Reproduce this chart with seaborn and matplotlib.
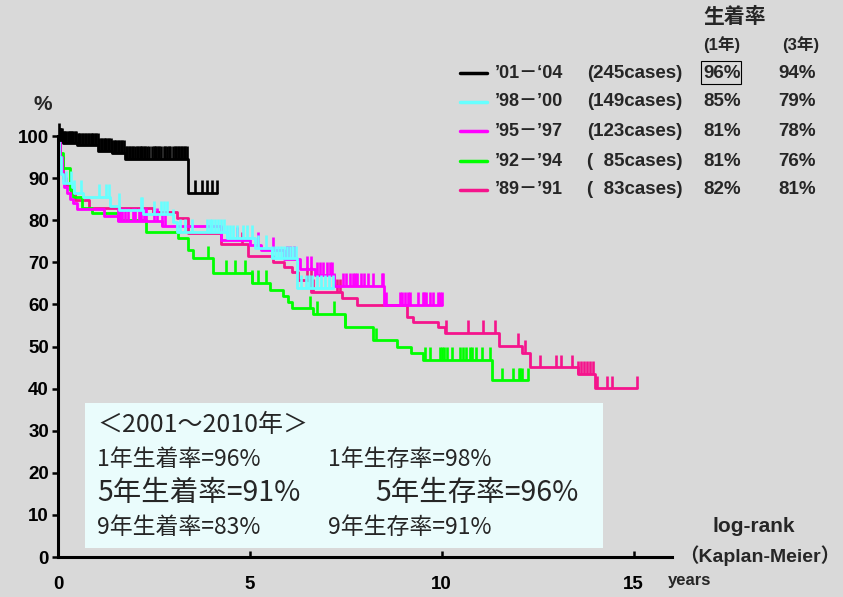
import numpy as np
import matplotlib
matplotlib.use('Agg')
import matplotlib.pyplot as plt
from matplotlib.patches import Rectangle
from matplotlib.lines import Line2D
import seaborn as sns

# legend rows (newest first)
periods = ['’01－‘04', '’98－’00', '’95－’97', '’92－’94', '’89－’91']
cases = ['(245cases)', '(149cases)', '(123cases)', '(  85cases)', '(  83cases)']
rate_1y = ['96%', '85%', '81%', '81%', '82%']
rate_3y = ['94%', '79%', '78%', '76%', '81%']
colors = ['black', '#66ffff', '#ff00ff', '#00ff00', '#f5148c']

# Kaplan-Meier steps: event times, survival after each, follow-up end, censor times
t01 = [0, 0.03, 0.12, 0.5, 1.05, 1.4, 1.74, 3.39]
s01 = [100, 99, 98.3, 97.8, 96.5, 96, 94.6, 86.5]
end01 = 4.14
c01 = [0.02, 0.04, 0.06, 0.08, 0.1, 0.13, 0.16, 0.19, 0.22, 0.25, 0.28, 0.31, 0.34, 0.37,
       0.4, 0.44, 0.47, 0.51, 0.55, 0.58, 0.62, 0.66, 0.7, 0.74, 0.78, 0.81, 0.85, 0.88,
       0.92, 0.96, 1.0, 1.04, 1.08, 1.11, 1.15, 1.19, 1.22, 1.26, 1.3, 1.33, 1.37, 1.41,
       1.45, 1.49, 1.52, 1.56, 1.6, 1.64, 1.68, 1.72, 1.76, 1.8, 1.84, 1.88, 1.92, 1.96,
       2.0, 2.05, 2.09, 2.13, 2.17, 2.2, 2.24, 2.28, 2.32, 2.36, 2.45, 2.49, 2.52, 2.56,
       2.6, 2.64, 2.68, 2.76, 2.8, 2.85, 2.89, 2.93, 3.0, 3.04, 3.08, 3.12, 3.16, 3.2,
       3.24, 3.28, 3.32, 3.36, 3.57, 3.75, 3.88, 4.01, 4.14]

t98 = [0, 0.03, 0.08, 0.13, 0.36, 0.42, 0.65, 1.35, 1.6, 2.22, 3.0, 3.1, 4.4, 5.13, 5.57, 6.22]
s98 = [100, 95, 91, 88.8, 88, 86.5, 85.5, 83.5, 82.5, 81.5, 79.6, 77.2, 75.8, 73.4, 71, 63.9]
end98 = 7.17
c98 = [0.2, 0.34, 0.42, 0.6, 1.07, 1.25, 1.33, 1.59, 2.16, 2.2, 2.5, 2.68, 2.76, 2.85, 3.0,
       3.18, 3.3, 3.49, 3.88, 3.95, 4.02, 4.1, 4.17, 4.25, 4.32, 4.4, 4.48, 4.56, 4.66,
       4.82, 4.92, 5.05, 5.22, 5.43, 5.57, 5.65, 5.72, 5.8, 5.88, 5.96, 6.05, 6.13, 6.2,
       6.32, 6.45, 6.55, 6.62, 6.75, 6.85, 6.95, 7.05, 7.17]

t95 = [0, 0.05, 0.1, 0.15, 0.23, 0.3, 0.4, 0.5, 1.2, 1.56, 2.7, 4.25, 5.0, 5.3, 5.9, 6.3, 6.7, 7.2, 8.5]
s95 = [100, 95, 91, 88, 86.5, 85, 84, 82.6, 81, 79.8, 78.6, 75.3, 74.1, 73, 70.8, 68.5, 67, 64.4, 59.9]
end95 = 10.0
c95 = [1.56, 1.62, 1.68, 1.75, 1.82, 1.95, 2.0, 2.1, 2.17, 2.23, 2.3, 2.5, 2.58, 2.7, 2.8,
       4.66, 5.2, 5.6, 5.96, 6.05, 6.15, 6.5, 6.6, 6.75, 6.82, 6.9, 7.0, 7.08, 7.14, 7.2,
       7.42, 7.5, 7.6, 7.68, 7.74, 7.8, 7.9, 7.98, 8.07, 8.2, 8.44, 8.46, 8.56, 8.9, 8.97,
       9.03, 9.11, 9.17, 9.38, 9.5, 9.55, 9.6, 9.69, 9.77, 9.9, 9.95, 10.0]

t92 = [0, 0.05, 0.13, 0.31, 0.4, 0.62, 0.88, 1.56, 2.3, 3.13, 3.39, 3.52, 4.04, 5.05, 5.52,
       5.86, 6.0, 6.1, 6.64, 7.47, 8.2, 8.83, 9.2, 9.5, 11.3]
s92 = [100, 96, 92.4, 87.2, 85.5, 83, 81.7, 80, 77.2, 75.8, 73, 71, 67.5, 65.1, 63.4,
       62, 60.6, 59.1, 57.8, 54.6, 51.5, 49.9, 48.5, 46.8, 42]
end92 = 12.25
c92 = [3.9, 4.39, 4.6, 4.87, 5.05, 5.22, 5.43, 6.56, 6.74, 7.2, 7.47, 8.28, 9.56, 9.69,
       9.95, 10.0, 10.05, 10.13, 10.26, 10.47, 10.55, 10.62, 10.73, 10.8, 10.9, 11.04,
       11.25, 11.56, 11.85, 12.0, 12.05, 12.1, 12.24]

t89 = [0, 0.05, 0.12, 0.2, 0.35, 0.45, 0.8, 2.47, 3.1, 3.4, 4.25, 4.95, 5.6, 5.9, 6.1, 6.25,
       6.6, 7.4, 7.8, 9.1, 9.25, 9.9, 10.08, 11.5, 12.1, 12.3, 13.55, 14.0]
s89 = [100, 95, 90, 88.4, 86.5, 84.8, 82.9, 82, 80.5, 77, 74.3, 71.5, 70, 69, 67.7, 65.8,
       63, 61.5, 59.9, 57, 55.8, 54.6, 53.2, 50.1, 48.5, 45.1, 43.5, 40.1]
end89 = 15.1
c89 = [4.8, 6.5, 6.58, 6.64, 7.27, 7.35, 10.1, 10.68, 11.07, 11.38, 11.98, 12.16, 12.55,
       12.99, 13.12, 13.4, 13.55, 13.62, 13.7, 13.78, 13.86, 13.94, 14.04, 14.3, 14.43, 15.08]

groups = [(t01, s01, end01, c01), (t98, s98, end98, c98), (t95, s95, end95, c95),
          (t92, s92, end92, c92), (t89, s89, end89, c89)]

# box text
box_title = '＜2001～2010年＞'
box_rows = [('1年生着率=96%', '1年生存率=98%'),
            ('5年生着率=91%', '5年生存率=96%'),
            ('9年生着率=83%', '9年生存率=91%')]

sns.set_theme(style='ticks')
plt.rcParams['font.family'] = ['Liberation Sans', 'Noto Sans CJK JP']
bg = '#d9d9d9'

W, H = 843, 597
fig = plt.figure(figsize=(W / 100, H / 100), dpi=100, facecolor=bg)
fx = lambda px: px / W
fy = lambda py: 1 - py / H

ax = fig.add_axes([fx(58), fy(557), fx(672) - fx(58), fy(94) - fy(557)])
ax.set_facecolor(bg)
ax.set_xlim(0, 16)
ax.set_ylim(0, 110)

# draw oldest first so the recent cohorts sit on top
for i in reversed(range(len(groups))):
    t, s, end, cens = groups[i]
    xs = np.array(t + [end])
    ys = np.array(s + [s[-1]])
    sns.lineplot(x=xs, y=ys, color=colors[i], drawstyle='steps-post', lw=2.0,
                 estimator=None, sort=False, ax=ax)
    cy = np.array(s)[np.searchsorted(t, cens, side='right') - 1]
    ax.vlines(cens, cy, cy + 3, color=colors[i], lw=1.9)

ax.spines['top'].set_visible(False)
ax.spines['right'].set_visible(False)
ax.spines['left'].set_bounds(0, 100)
ax.spines['left'].set_linewidth(2.2)
ax.spines['bottom'].set_linewidth(2.2)
ax.spines['left'].set_color('black')
ax.spines['bottom'].set_color('black')
ax.set_yticks(range(0, 101, 10))
ax.set_xticks([0, 5, 10, 15])
ax.tick_params(axis='y', direction='out', length=4.5, width=1.8, pad=2, labelsize=13.5, colors='black')
ax.tick_params(axis='x', direction='in', length=4, width=1.8, pad=14, labelsize=13.5, colors='black')
for lab in ax.get_xticklabels() + ax.get_yticklabels():
    lab.set_fontweight('bold')
ax.set_xlabel('')
ax.set_ylabel('')

# summary box
ax.add_patch(Rectangle((0.7, 2.1), 13.5, 34.5, facecolor='#eafcfc', edgecolor='none', zorder=0.5))
cjk = ['Noto Sans CJK JP', 'DejaVu Sans']
fig.text(fx(97), fy(425), box_title, family=cjk, fontsize=18, va='center', ha='left')
row_y = [460, 493, 528]
row_size = [16.5, 20.5, 16.5]
row_x2 = [328, 375, 328]
for (a, b), py, fs, x2 in zip(box_rows, row_y, row_size, row_x2):
    fig.text(fx(97), fy(py), a, family=cjk, fontsize=fs, va='center', ha='left')
    fig.text(fx(x2), fy(py), b, family=cjk, fontsize=fs, va='center', ha='left')

# axis annotations
fig.text(fx(43), fy(105), '%', fontsize=15, fontweight='bold', ha='center', va='center')
fig.text(fx(668), fy(580), 'years', fontsize=12, fontweight='bold', ha='left', va='center')
fig.text(fx(754), fy(527), 'log-rank', fontsize=15, fontweight='bold', ha='center', va='center')
fig.text(fx(840), fy(556), '（Kaplan-Meier）', fontsize=14, fontweight='bold', ha='right', va='center')

# legend table
fig.text(fx(703), fy(17), '生着率', fontsize=15, fontweight='bold', ha='left', va='center')
fig.text(fx(703), fy(45), '(1年)', fontsize=12, fontweight='bold', ha='left', va='center')
fig.text(fx(782), fy(45), '(3年)', fontsize=12, fontweight='bold', ha='left', va='center')
leg_y = [73, 102, 131, 161, 190]
for i, py in enumerate(leg_y):
    fig.add_artist(Line2D([fx(460), fx(487)], [fy(py), fy(py)], color=colors[i], lw=2.5))
    fig.text(fx(495), fy(py), periods[i], fontsize=13, fontweight='bold', ha='left', va='center')
    fig.text(fx(587), fy(py), cases[i], fontsize=13.5, fontweight='bold', ha='left', va='center')
    fig.text(fx(703), fy(py), rate_1y[i], fontsize=13.5, fontweight='bold', ha='left', va='center')
    fig.text(fx(778), fy(py), rate_3y[i], fontsize=13.5, fontweight='bold', ha='left', va='center')
fig.add_artist(Rectangle((fx(701), fy(84)), fx(741) - fx(701), fy(61) - fy(84),
                         fill=False, edgecolor='black', lw=0.8, transform=fig.transFigure))

fig.savefig('out.png', dpi=100, facecolor=bg)
